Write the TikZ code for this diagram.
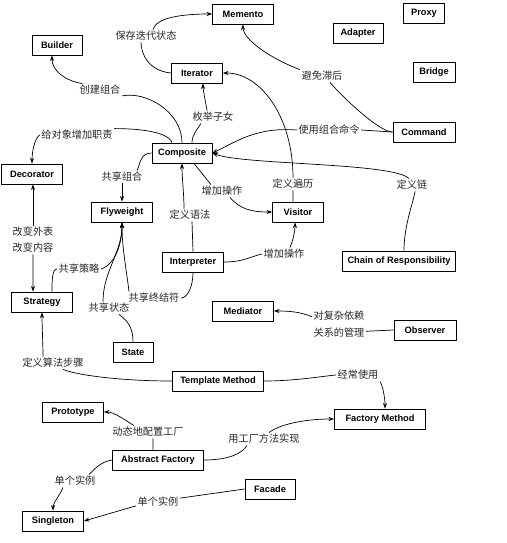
\documentclass[tikz,border=0pt]{standalone}
\usepackage{fontspec}
\setmainfont{Liberation Sans}
\newfontfamily\cjk{Noto Sans CJK SC}
\usetikzlibrary{arrows.meta}
\tikzset{
 pat/.style={draw, line width=0.9bp, minimum height=20bp, inner sep=0pt, font=\bfseries\fontsize{9.3}{11}\selectfont},
 lab/.style={inner sep=1.5bp, font=\cjk\fontsize{10.2}{16}\selectfont, align=center, text=black!85},
 con/.style={line width=0.7bp},
 arr/.style={con, -{Stealth[length=5.5bp,width=4bp]}},
}
\begin{document}
\begin{tikzpicture}[x=1bp,y=-1bp]
\useasboundingbox (0,0) rectangle (507,543);
% pattern boxes
\node[pat, minimum width=61bp] (mem) at (243,14) {Memento};
\node[pat, minimum width=41bp] (prx) at (424,13) {Proxy};
\node[pat, minimum width=50bp] (adp) at (358,33) {Adapter};
\node[pat, minimum width=42bp] (brg) at (434,72) {Bridge};
\node[pat, minimum width=50bp] (bld) at (57,45) {Builder};
\node[pat, minimum width=51bp] (it) at (197,73) {Iterator};
\node[pat, minimum width=62bp] (cmd) at (424,132) {Command};
\node[pat, minimum width=60bp] (cmp) at (182,153) {Composite};
\node[pat, minimum width=61bp] (dec) at (32,174) {Decorator};
\node[pat, minimum width=61bp] (fly) at (122,212) {Flyweight};
\node[pat, minimum width=51bp] (vis) at (298,212) {Visitor};
\node[pat, minimum width=61bp] (int) at (193,262) {Interpreter};
\node[pat, minimum width=113bp] (coc) at (399,261) {Chain of Responsibility};
\node[pat, minimum width=61bp] (str) at (42,302) {Strategy};
\node[pat, minimum width=40bp] (sta) at (133,352) {State};
\node[pat, minimum width=61bp] (med) at (243,311) {Mediator};
\node[pat, minimum width=62bp] (obs) at (425,330) {Observer};
\node[pat, minimum width=91bp] (tm) at (218,381) {Template Method};
\node[pat, minimum width=61bp] (pro) at (73,412) {Prototype};
\node[pat, minimum width=91bp] (fm) at (380,419) {Factory Method};
\node[pat, minimum width=91bp] (af) at (158,460) {Abstract Factory};
\node[pat, minimum width=50bp] (fac) at (270,489) {Facade};
\node[pat, minimum width=61bp] (sgl) at (53,521) {Singleton};
% labels
\node[lab] (l1) at (146,36) {保存迭代状态};
\node[lab] (l2) at (100,90) {创建组合};
\node[lab] (l3) at (213,117) {枚举子女};
\node[lab] (l4) at (77,135) {给对象增加职责};
\node[lab] (l5) at (122,177) {共享组合};
\node[lab] (l6) at (322,76) {避免滞后};
\node[lab] (l7) at (329,130) {使用组合命令};
\node[lab] (l8) at (293,184) {定义遍历};
\node[lab] (l9) at (412,185) {定义链};
\node[lab] (l10) at (222,191) {增加操作};
\node[lab] (l11) at (190,215) {定义语法};
\node[lab] (l14) at (33,240) {改变外表\\改变内容};
\node[lab] (l15) at (79,269) {共享策略};
\node[lab] (l13) at (154,298) {共享终结符};
\node[lab] (l16) at (109,308) {共享状态};
\node[lab] (l12) at (284,254) {增加操作};
\node[lab, font=\cjk\fontsize{10.2}{17}\selectfont] (l17) at (339,324) {对复杂依赖\\关系的管理};
\node[lab] (l18) at (53,363) {定义算法步骤};
\node[lab] (l19) at (358,375) {经常使用};
\node[lab] (l20) at (148,432) {动态地配置工厂};
\node[lab] (l21) at (264,439) {用工厂方法实现};
\node[lab] (l22) at (75,481) {单个实例};
\node[lab] (l23) at (158,502) {单个实例};
% connectors
% Iterator -> Memento
\draw[con] (it.west) .. controls +(-22,-2) and +(0,12) .. ([xshift=-5bp]l1.south);
\draw[arr] ([xshift=7bp]l1.north) .. controls +(3,-12) and +(-30,0) .. (mem.west);
% Composite -> Builder
\draw[con] (cmp.north) .. controls +(0,-30) and +(25,-5) .. (l2.-15);
\draw[arr] (l2.160) .. controls +(-18,-3) and +(0,15) .. ([xshift=-5bp]bld.south);
% Composite -> Iterator
\draw[con] ([xshift=10bp]cmp.north) .. controls +(0,-8) and +(-3,5) .. ([xshift=-12bp]l3.south);
\draw[arr] ([xshift=-6bp]l3.north) .. controls +(-1,-6) and +(0,6) .. ([xshift=6bp]it.south);
% Composite -> Decorator
\draw[con] ([xshift=-10bp]cmp.north) .. controls +(-5,-12) and +(20,0) .. (l4.north east);
\draw[arr] (l4.west) .. controls +(-5,3) and +(0,-12) .. (dec.north);
% Composite -> Flyweight
\draw[con] (cmp.west) .. controls +(-12,0) and +(3,-5) .. ([xshift=-7bp]l5.north east);
\draw[arr] (l5.south) -- (fly.north);
% Command -> Memento
\draw[con] (cmd.west) .. controls +(-14,0) and +(10,12) .. ([xshift=8bp]l6.south);
\draw[arr] (l6.north west) .. controls +(-32,-12) and +(0,14) .. (mem.south);
% Command -> Composite
\draw[con] (cmd.west) -- (l7.east);
\draw[arr] (l7.west) .. controls +(-40,-3) and +(25,-12) .. (cmp.east);
% Visitor -> Iterator
\draw[con] ([xshift=-5bp]vis.north) -- (l8.south);
\draw[arr] (l8.north) .. controls +(0,-60) and +(38,0) .. (it.east);
% Chain -> Composite
\draw[con] ([xshift=5bp]coc.north) .. controls +(0,-25) and +(-2,12) .. ([xshift=3bp]l9.south);
\draw[arr] ([xshift=-3bp]l9.north) .. controls +(-15,-16) and +(30,12) .. (cmp.east);
% Composite -> Visitor
\draw[con] ([xshift=12bp]cmp.south) -- ([xshift=-11bp]l10.north);
\draw[arr] ([xshift=8bp]l10.south) .. controls +(10,12) and +(-20,0) .. (vis.west);
% Interpreter -> Composite
\draw[con] (int.north) -- ([xshift=2bp]l11.south);
\draw[arr] ([xshift=-6bp]l11.north) .. controls +(0,-15) and +(0,15) .. (cmp.south);
% Interpreter -> Visitor
\draw[con] (int.east) .. controls +(20,0) and +(-10,2) .. (l12.west);
\draw[arr] ([xshift=6bp]l12.north) .. controls +(3,-8) and +(0,10) .. ([xshift=-3bp]vis.south);
% Interpreter -> Flyweight
\draw[con] (int.south) .. controls +(0,15) and +(6,0) .. (l13.east);
\draw[arr] ([xshift=-25bp]l13.north) .. controls +(-3,-25) and +(0,25) .. (fly.south);
% Decorator <-> Strategy
\draw[arr] (l14.north) -- ([xshift=1bp]dec.south);
\draw[arr] (l14.south) -- ([xshift=-9bp]str.north);
% Strategy -> Flyweight
\draw[con] ([xshift=10bp]str.north) .. controls +(0,-10) and +(-5,0) .. (l15.west);
\draw[arr] (l15.east) .. controls +(15,-5) and +(0,20) .. (fly.south);
% State -> Flyweight
\draw[con] (sta.north) .. controls +(0,-15) and +(8,6) .. ([xshift=10bp]l16.south);
\draw[arr] ([xshift=-6bp]l16.north) .. controls +(0,-30) and +(0,30) .. (fly.south);
% Observer -> Mediator
\draw[con] (obs.west) -- (l17.-15);
\draw[arr] (l17.165) .. controls +(-12,-5) and +(15,0) .. (med.east);
% Template Method -> Strategy
\draw[con] (tm.west) .. controls +(-50,0) and +(15,6) .. ([xshift=10bp]l18.south);
\draw[arr] ([xshift=-10bp]l18.north) .. controls +(0,-12) and +(0,12) .. (str.south);
% Template Method -> Factory Method
\draw[con] (tm.east) .. controls +(30,0) and +(-20,2) .. (l19.west);
\draw[arr] (l19.south east) .. controls +(3,5) and +(0,-10) .. ([xshift=5bp]fm.north);
% Abstract Factory -> Prototype
\draw[con] ([xshift=-5bp]af.north) -- ([xshift=5bp]l20.south);
\draw[arr] ([xshift=-14bp]l20.north) .. controls +(-8,-5) and +(10,0) .. (pro.east);
% Abstract Factory -> Factory Method
\draw[con] (af.east) .. controls +(25,0) and +(-5,8) .. ([xshift=-17bp]l21.south);
\draw[arr] ([xshift=5bp]l21.north) .. controls +(10,-8) and +(-30,0) .. (fm.west);
% Abstract Factory -> Singleton
\draw[con] (af.west) .. controls +(-12,2) and +(5,-5) .. ([xshift=-8bp]l22.north east);
\draw[arr] ([xshift=-12bp]l22.south) .. controls +(-3,8) and +(0,-8) .. (sgl.north);
% Facade -> Singleton
\draw[con] (fac.west) -- (l23.10);
\draw[arr] (l23.190) -- (sgl.east);
\end{tikzpicture}
\end{document}
